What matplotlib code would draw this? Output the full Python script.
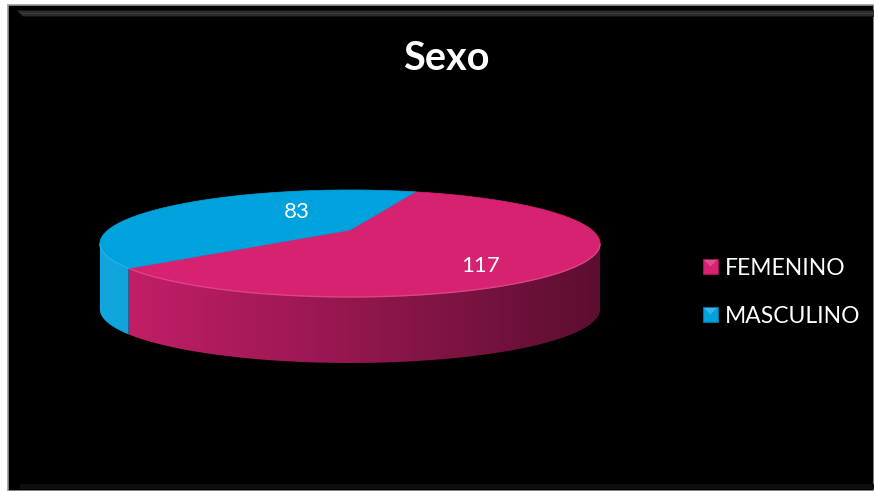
import numpy as np
import matplotlib
matplotlib.use("Agg")
import matplotlib.pyplot as plt
from matplotlib.patches import Polygon, Rectangle
from matplotlib.colors import to_rgb

# ---- data ----
categories = ["FEMENINO", "MASCULINO"]
values = [117, 83]
top_colors = ["#D72271", "#00A2DE"]
side_left_colors = ["#C61F69", "#12A6DE"]
side_right_colors = ["#5A0E2F", "#0088C0"]
title = "Sexo"

# ---- layout ----
W, H = 874, 491
cx, cy0 = 350.0, 230.0        # projected pie centre
a, b, k = 242.0, 50.1, 0.252  # ellipse radii and perspective factor
depth = 66.0
start_angle = 70.5            # first slice starts here, going clockwise

plt.rcParams["font.family"] = ["Lato", "DejaVu Sans"]
fig = plt.figure(figsize=(W / 100, H / 100), dpi=100, facecolor="white")
ax = fig.add_axes([0, 0, 1, 1])
ax.set_xlim(0, W)
ax.set_ylim(H, 0)
ax.axis("off")

# frame
ax.add_patch(Rectangle((8, 5), W - 8, H - 5, facecolor="black",
                       edgecolor="#9a9a9a", linewidth=1.2, zorder=0))
for i, c in enumerate(["#151515", "#2c2c2c", "#3c3c3c", "#2c2c2c", "#151515"]):
    y = 10 + i * 1.4
    ax.add_patch(Polygon([(16 + i * 1.6, y), (W, y), (W, y + 1.4), (16 + (i + 1) * 1.6, y + 1.4)],
                         closed=True, facecolor=c, edgecolor="none", zorder=1))
ax.add_patch(Rectangle((20, H - 7), W - 20, 5, facecolor="#0e0e0e", edgecolor="none", zorder=1))


def proj(t_deg, r=1.0):
    t = np.radians(t_deg)
    u = r * np.cos(t)
    v = r * np.sin(t)
    den = 1 + k * v
    return cx + a * u / den, cy0 - b * v / den


def mix(c1, c2, f):
    c1, c2 = np.array(to_rgb(c1)), np.array(to_rgb(c2))
    return tuple(c1 + (c2 - c1) * f)


# slice angular ranges (counterclockwise lo..hi)
total = sum(values)
ranges = []
cur = start_angle
for v in values:
    span = 360.0 * v / total
    ranges.append((cur - span, cur))
    cur -= span

xmin, xmax = cx - a * 1.04, cx + a * 1.04
sil = np.degrees(np.arcsin(k))   # silhouette angle of the cylinder wall


def front_parts(lo, hi):
    lo_n = lo % 360
    hi_n = lo_n + (hi - lo)
    out = []
    for base in (0, 360):
        s = max(lo_n, 180 + sil + base)
        e = min(hi_n, 360 - sil + base)
        if e > s:
            out.append((s, e))
    return out


# side walls with horizontal gradient
for (lo, hi), cl, cr in zip(ranges, side_left_colors, side_right_colors):
    for s, e in front_parts(lo, hi):
        ts = np.linspace(s, e, 300)
        top = [proj(t) for t in ts]
        bot = [(x, y + depth) for x, y in top[::-1]]
        poly = Polygon(top + bot, closed=True, facecolor="none", edgecolor="none")
        ax.add_patch(poly)
        n = 256
        f = np.linspace(0, 1, n) ** 1.1
        c1, c2 = np.array(to_rgb(cl)), np.array(to_rgb(cr))
        grad = c1[None, :] + (c2 - c1)[None, :] * f[:, None]
        img = ax.imshow(np.repeat(grad[None, :, :], 2, axis=0),
                        extent=(xmin - 3, xmax + 3, cy0 + b + depth + 40, cy0 - b - 20),
                        aspect="auto", interpolation="bilinear", zorder=2)
        img.set_clip_path(poly)

ax.set_xlim(0, W)
ax.set_ylim(H, 0)

# top faces
for (lo, hi), col in zip(ranges, top_colors):
    ts = np.linspace(lo, hi, 300)
    pts = [proj(0, 0)] + [proj(t) for t in ts]
    ax.add_patch(Polygon(pts, closed=True, facecolor=col, edgecolor=col,
                         linewidth=0.5, zorder=3))

# subtle rim highlight on the front edge
for (lo, hi), col in zip(ranges, top_colors):
    for s, e in front_parts(lo, hi):
        ts = np.linspace(s, e, 200)
        xs, ys = zip(*[proj(t) for t in ts])
        ax.plot(xs, ys, color=mix(col, "#ffffff", 0.15), lw=1.0, zorder=4,
                solid_capstyle="butt")

# data labels
label_pos = [(481, 272), (297, 218)]
for v, (lx, ly) in zip(values, label_pos):
    ax.text(lx, ly, str(v), color="white", fontsize=16, ha="center",
            va="baseline", zorder=5)

# title
ax.text(446, 70, title, color="white", fontsize=28.5, fontweight="bold",
        ha="center", va="baseline", zorder=5)

# legend
leg_y = [275, 323]
for name, col, yb in zip(categories, top_colors, leg_y):
    ax.add_patch(Rectangle((703, yb - 16), 15, 15, facecolor=col,
                           edgecolor=mix(col, "#000000", 0.3), linewidth=0.8, zorder=5))
    ax.add_patch(Polygon([(704, yb - 15), (717, yb - 15), (710.5, yb - 8.5)], closed=True,
                         facecolor=mix(col, "#ffffff", 0.2), edgecolor="none", zorder=6))
    ax.text(725, yb, name, color="white", fontsize=16.5, ha="left",
            va="baseline", zorder=5)

fig.savefig("out.png", dpi=100, facecolor="white")
